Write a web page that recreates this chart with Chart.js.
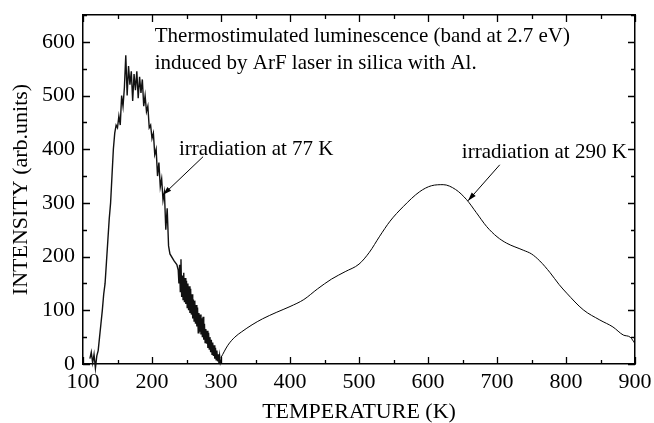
<!DOCTYPE html>
<html>
<head>
<meta charset="utf-8">
<script src="https://cdn.jsdelivr.net/npm/chart.js@4"></script>
<style>
  html, body { margin: 0; padding: 0; background: #fff; }
  #wrap { width: 654px; height: 423px; }
</style>
</head>
<body>
<div id="wrap"><canvas id="tl_chart" width="654" height="423"></canvas></div>
<script>
// irradiation at 77 K (noisy trace)
var temp77 = [110, 112, 114, 116, 118, 120, 122, 124, 126, 128, 130, 132, 134, 136, 138, 140,
    142, 144, 146, 148, 150, 152, 154, 156, 158, 160, 162, 164, 166, 168, 170, 172, 174, 176,
    178, 180, 182, 184, 186, 188, 190, 192, 194, 196, 198, 200, 202, 204, 206, 208, 210, 212,
    214, 216, 218, 220, 222, 224, 226, 232, 236, 238, 239, 240, 241, 242, 243, 244, 245, 246,
    247, 248, 249, 250, 251, 252, 253, 254, 255, 256, 257, 258, 259, 260, 261, 262, 263, 264,
    265, 266, 267, 268, 269, 270, 271, 272, 273, 274, 275, 276, 277, 278, 279, 280, 281, 282,
    283, 284, 285, 286, 287, 288, 289, 290, 291, 292, 293, 294, 295, 296, 297, 298, 299, 300];
var int77 = [10, 22, 2, 18, -8, 15, 25, 50, 75, 100, 130, 150, 190, 230, 270, 300,
    350, 400, 430, 445, 440, 462, 445, 500, 480, 515, 575, 500, 555, 520, 545, 490, 540, 510,
    545, 495, 535, 505, 530, 480, 500, 470, 480, 440, 445, 420, 430, 390, 400, 350, 375, 330,
    345, 305, 320, 250, 290, 220, 205, 192, 185, 175, 150, 185, 135, 195, 125, 165, 120, 170,
    115, 160, 112, 155, 105, 150, 100, 145, 95, 140, 92, 130, 85, 120, 80, 118, 75, 110,
    70, 105, 58, 95, 60, 92, 55, 85, 50, 88, 45, 75, 40, 65, 38, 62, 30, 58,
    28, 50, 22, 45, 18, 40, 15, 35, 10, 30, 8, 25, 5, 18, 2, 15, 3, 8];

// irradiation at 290 K (smooth trace)
var temp290 = [300, 310, 320, 330, 345, 360, 380, 400, 420, 440, 460, 480, 500, 515, 530, 545,
    564, 588, 605, 622, 640, 656, 670, 685, 700, 714, 738, 750, 762, 777, 790, 801, 825, 849,
    868, 883, 893, 900];
var int290 = [12, 35, 50, 60, 73, 84, 96, 107, 120, 140, 158, 172, 186, 208, 238, 266,
    293, 321, 332, 334, 325, 306, 282, 256, 237, 225, 212, 205, 192, 170, 148, 132, 101, 82,
    69, 54, 50, 38];

var xTicks = [100, 200, 300, 400, 500, 600, 700, 800, 900];
var yTicks = [0, 100, 200, 300, 400, 500, 600];

function toPoints(xs, ys) {
    return xs.map(function (x, i) { return { x: x, y: ys[i] }; });
}

var serif = 'Liberation Serif';

// inward ticks on all four sides, arrows and text notes
var framePlugin = {
    id: 'frame',
    afterDraw: function (chart) {
        var ctx = chart.ctx;
        var xs = chart.scales.x, ys = chart.scales.y;
        var a = chart.chartArea;
        ctx.save();
        ctx.strokeStyle = '#000';
        ctx.lineWidth = 1.3;
        ctx.beginPath();
        for (var v = 100; v <= 900; v += 50) {
            var px = Math.round(xs.getPixelForValue(v)) + 0.5;
            var len = (v % 100 === 0) ? 7 : 4;
            ctx.moveTo(px, a.bottom); ctx.lineTo(px, a.bottom - len);
            ctx.moveTo(px, a.top); ctx.lineTo(px, a.top + len);
        }
        for (var w = 0; w <= 650; w += 50) {
            var py = Math.round(ys.getPixelForValue(w)) + 0.5;
            var l2 = (w % 100 === 0) ? 7 : 4;
            ctx.moveTo(a.left, py); ctx.lineTo(a.left + l2, py);
            ctx.moveTo(a.right, py); ctx.lineTo(a.right - l2, py);
        }
        ctx.stroke();

        // notes
        ctx.fillStyle = '#000';
        ctx.font = '21px "' + serif + '"';
        ctx.textBaseline = 'alphabetic';
        ctx.textAlign = 'left';
        ctx.fillText('Thermostimulated luminescence (band at 2.7 eV)', xs.getPixelForValue(204), ys.getPixelForValue(599));
        ctx.fillText('induced by ArF laser in silica with Al.', xs.getPixelForValue(204), ys.getPixelForValue(550));
        ctx.fillText('irradiation at 77 K', xs.getPixelForValue(239), ys.getPixelForValue(390));
        ctx.fillText('irradiation at 290 K', xs.getPixelForValue(649), ys.getPixelForValue(384));

        arrow(ctx, xs.getPixelForValue(274), ys.getPixelForValue(386), xs.getPixelForValue(216), ys.getPixelForValue(315));
        arrow(ctx, xs.getPixelForValue(704), ys.getPixelForValue(371), xs.getPixelForValue(658), ys.getPixelForValue(304));
        ctx.restore();
    }
};

function arrow(ctx, x1, y1, x2, y2) {
    var ang = Math.atan2(y2 - y1, x2 - x1);
    ctx.lineWidth = 1;
    ctx.beginPath();
    ctx.moveTo(x1, y1);
    ctx.lineTo(x2, y2);
    ctx.stroke();
    ctx.beginPath();
    ctx.moveTo(x2, y2);
    ctx.lineTo(x2 - 9 * Math.cos(ang - 0.3), y2 - 9 * Math.sin(ang - 0.3));
    ctx.lineTo(x2 - 9 * Math.cos(ang + 0.3), y2 - 9 * Math.sin(ang + 0.3));
    ctx.closePath();
    ctx.fill();
}

function noPad(s) {
    s.paddingLeft = 0; s.paddingRight = 0; s.paddingTop = 0; s.paddingBottom = 0;
}

function edgeAxis(pos, size) {
    return {
        type: 'linear',
        position: pos,
        min: (pos === 'top') ? 100 : 0,
        max: (pos === 'top') ? 900 : 650,
        grid: { display: false, drawTicks: false },
        border: { display: true, color: '#000', width: 1.5 },
        ticks: { display: false },
        afterFit: function (s) {
            if (pos === 'top') s.height = size; else s.width = size;
            noPad(s);
        }
    };
}

new Chart(document.getElementById('tl_chart').getContext('2d'), {
    type: 'line',
    data: {
        datasets: [{
            label: 'irradiation at 77 K',
            data: toPoints(temp77, int77),
            borderColor: '#111',
            borderWidth: 1.4,
            pointRadius: 0,
            tension: 0,
            clip: false
        }, {
            label: 'irradiation at 290 K',
            data: toPoints(temp290, int290),
            borderColor: '#000',
            borderWidth: 1,
            pointRadius: 0,
            cubicInterpolationMode: 'monotone'
        }]
    },
    options: {
        responsive: false,
        animation: false,
        layout: { padding: 0 },
        plugins: { legend: { display: false }, tooltip: { enabled: false } },
        scales: {
            x: {
                type: 'linear',
                position: 'bottom',
                min: 100,
                max: 900,
                afterBuildTicks: function (s) {
                    s.ticks = xTicks.map(function (v) { return { value: v }; });
                },
                grid: { display: false, drawTicks: false },
                border: { display: true, color: '#000', width: 1.5 },
                ticks: { color: '#000', padding: 5, maxRotation: 0, font: { family: serif, size: 22 } },
                title: {
                    display: true,
                    text: 'TEMPERATURE (K)',
                    color: '#000',
                    padding: { top: 0, bottom: 0 },
                    font: { family: serif, size: 22, lineHeight: 1 }
                },
                afterFit: function (s) { s.height = 59; noPad(s); }
            },
            y: {
                type: 'linear',
                position: 'left',
                min: 0,
                max: 650,
                afterBuildTicks: function (s) {
                    s.ticks = yTicks.map(function (v) { return { value: v }; });
                },
                grid: { display: false, drawTicks: false },
                border: { display: true, color: '#000', width: 1.5 },
                ticks: { color: '#000', padding: 8, font: { family: serif, size: 22 } },
                title: {
                    display: true,
                    text: 'INTENSITY (arb.units)',
                    color: '#000',
                    padding: { top: 8, bottom: 0 },
                    font: { family: serif, size: 22 }
                },
                afterFit: function (s) { s.width = 83; noPad(s); }
            },
            x2: edgeAxis('top', 15),
            y2: edgeAxis('right', 19)
        }
    },
    plugins: [framePlugin]
});
</script>
</body>
</html>
